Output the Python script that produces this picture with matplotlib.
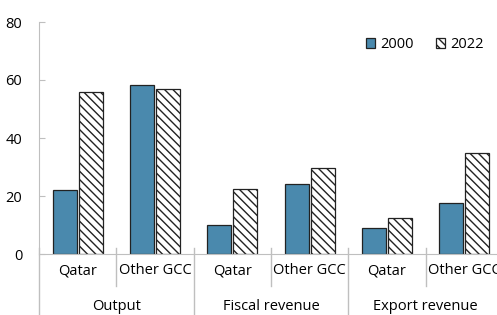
import matplotlib.pyplot as plt
import numpy as np

plt.rcParams['font.family'] = ['Open Sans', 'DejaVu Sans']
plt.rcParams['hatch.linewidth'] = 1.0

# Datos
groups = ['Output', 'Fiscal revenue', 'Export revenue']
subcats = ['Qatar', 'Other GCC', 'Qatar', 'Other GCC', 'Qatar', 'Other GCC']
vals_2000 = [22, 58.3, 10, 24.2, 9, 17.5]
vals_2022 = [56, 56.8, 22.3, 29.8, 12.3, 35]
years = ['2000', '2022']

blue = '#4a89ad'
edge = '#222222'
gray = '#bfbfbf'

fig = plt.figure(figsize=(4.97, 3.15), dpi=100)
ax = fig.add_axes([39 / 497, 1 - 254 / 315, 464 / 497, 232 / 315])

x = np.arange(len(subcats))
w = 0.31
ax.bar(x - 0.17, vals_2000, w, color=blue, edgecolor=edge, linewidth=0.9, label=years[0])
ax.bar(x + 0.17, vals_2022, w, color='white', edgecolor=edge, linewidth=0.9,
       hatch='\\\\\\\\', label=years[1])

ax.set_xlim(-0.5, 5.5)
ax.set_ylim(0, 80)
ax.set_yticks([0, 20, 40, 60, 80])
ax.tick_params(axis='y', direction='in', length=4, color=gray, labelsize=10.5, pad=12)
ax.set_xticks([])
for s in ['top', 'right']:
    ax.spines[s].set_visible(False)
ax.spines['left'].set_color(gray)
ax.spines['bottom'].set_color(gray)

# Etiquetas de categorías y separadores
tr = ax.get_xaxis_transform()
for i, name in enumerate(subcats):
    ax.text(i, -0.073, name, transform=tr, ha='center', va='center', fontsize=10.5)
for i, g in enumerate(groups):
    ax.text(2 * i + 0.5, -0.225, g, transform=tr, ha='center', va='center', fontsize=10.5)
for xs in [0.5, 2.5, 4.5]:
    ax.plot([xs, xs], [0.026, -0.138], transform=tr, color=gray, lw=1, clip_on=False)
for xs in [-0.5, 1.5, 3.5, 5.5]:
    ax.plot([xs, xs], [0.026, -0.27], transform=tr, color=gray, lw=1, clip_on=False)

ax.legend(ncol=2, frameon=False, loc='upper right', bbox_to_anchor=(484 / 497, 1 - 37 / 315),
          bbox_transform=fig.transFigure, fontsize=10.5, handlelength=0.65, handleheight=0.65,
          handletextpad=0.35, columnspacing=1.5, borderpad=0, borderaxespad=0)

fig.savefig('out.png', dpi=100)
